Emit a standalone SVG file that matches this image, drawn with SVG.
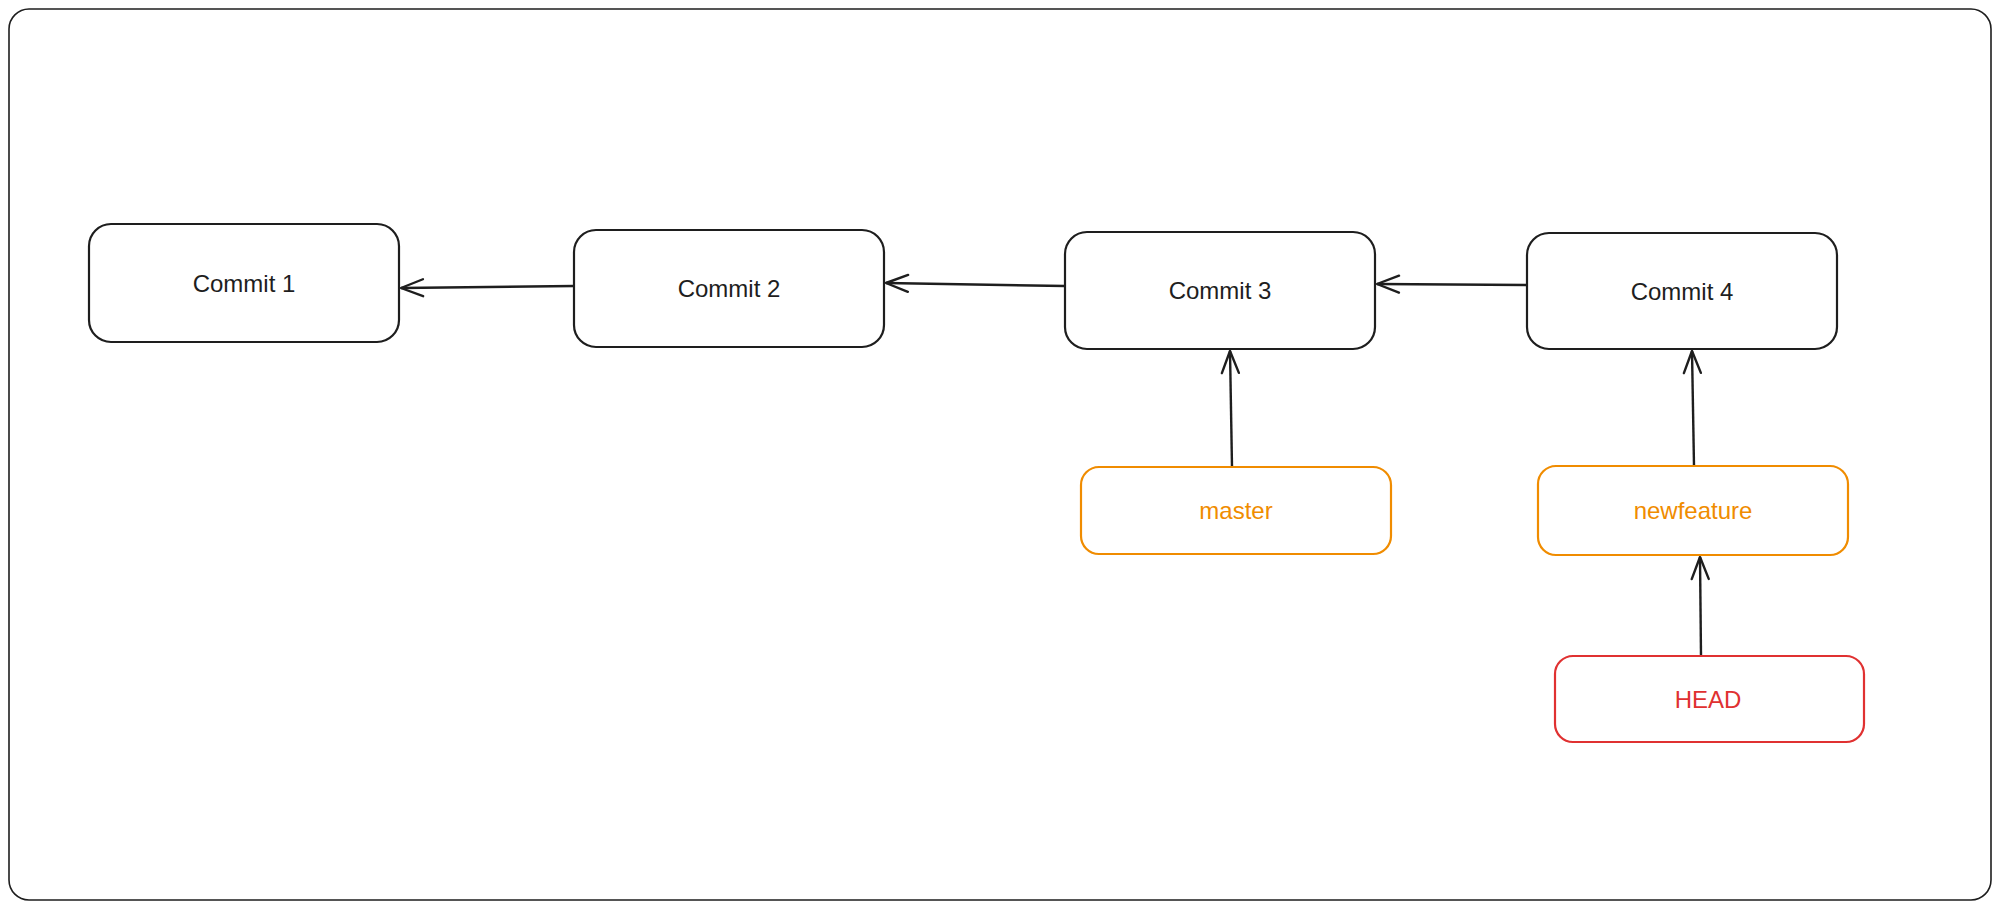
<svg xmlns="http://www.w3.org/2000/svg" width="2000" height="911" viewBox="0 0 2000 911">
<defs>
<style>
.frame{fill:#ffffff;stroke:#1e1e1e;stroke-width:1.6}
.commit{fill:#ffffff;stroke:#1e1e1e;stroke-width:2.2}
.branch{fill:#ffffff;stroke:#f08c00;stroke-width:2.2}
.head{fill:#ffffff;stroke:#e03131;stroke-width:2.2}
.lbl{font-family:"Liberation Sans",Arial,sans-serif;font-size:24px;text-anchor:middle;dominant-baseline:central}
.conn{fill:none;stroke:#1e1e1e;stroke-width:2.4;marker-end:url(#arr)}
</style>
<marker id="arr" markerUnits="userSpaceOnUse" markerWidth="30" markerHeight="24" viewBox="-24 -12 28 24" refX="0" refY="0" orient="auto">
<path d="M-22,-8.5 L0,0 L-22,8.5" fill="none" stroke="#1e1e1e" stroke-width="2.4" stroke-linecap="round" stroke-linejoin="round"/>
</marker>
</defs>
<rect class="frame" x="9" y="9" width="1982" height="891" rx="20" ry="20"/>
<g id="connectors">
<path class="conn" d="M574,286 L401,288"/>
<path class="conn" d="M1065,286 L886,283"/>
<path class="conn" d="M1527,285 L1377,284"/>
<path class="conn" d="M1232,467 L1230,351"/>
<path class="conn" d="M1694,466 L1692,351"/>
<path class="conn" d="M1701,656 L1700,557"/>
</g>
<g id="commit1">
<rect class="commit" x="89" y="224" width="310" height="118" rx="22" ry="22"/>
<text class="lbl" x="244" y="283" fill="#1e1e1e">Commit 1</text>
</g>
<g id="commit2">
<rect class="commit" x="574" y="230" width="310" height="117" rx="22" ry="22"/>
<text class="lbl" x="729" y="288" fill="#1e1e1e">Commit 2</text>
</g>
<g id="commit3">
<rect class="commit" x="1065" y="232" width="310" height="117" rx="22" ry="22"/>
<text class="lbl" x="1220" y="290" fill="#1e1e1e">Commit 3</text>
</g>
<g id="commit4">
<rect class="commit" x="1527" y="233" width="310" height="116" rx="22" ry="22"/>
<text class="lbl" x="1682" y="291" fill="#1e1e1e">Commit 4</text>
</g>
<g id="master">
<rect class="branch" x="1081" y="467" width="310" height="87" rx="18" ry="18"/>
<text class="lbl" x="1236" y="510" fill="#f08c00">master</text>
</g>
<g id="newfeature">
<rect class="branch" x="1538" y="466" width="310" height="89" rx="18" ry="18"/>
<text class="lbl" x="1693" y="510" fill="#f08c00">newfeature</text>
</g>
<g id="head">
<rect class="head" x="1555" y="656" width="309" height="86" rx="18" ry="18"/>
<text class="lbl" x="1708" y="699" fill="#e03131">HEAD</text>
</g>
</svg>
